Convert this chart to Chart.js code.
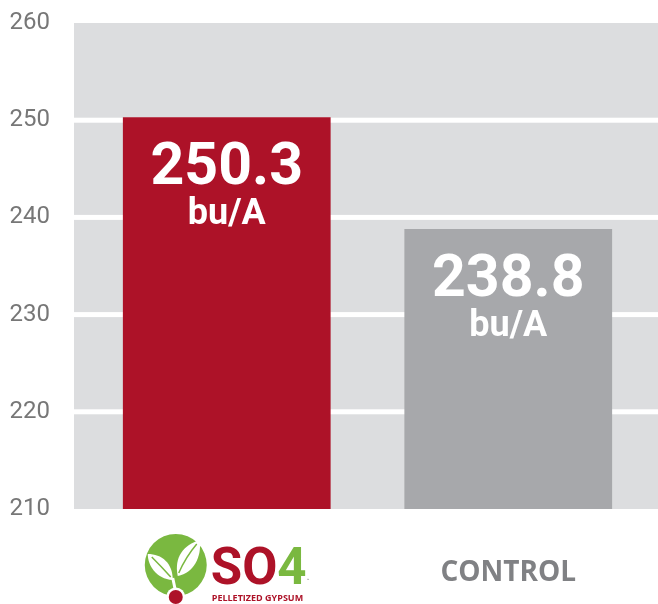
<!DOCTYPE html>
<html>
<head>
<meta charset="utf-8">
<script src="https://cdn.jsdelivr.net/npm/chart.js@4"></script>
<style>
  body { margin: 0; background: #fff; }
  #chart { display: block; }
</style>
</head>
<body>
<canvas id="chart" width="658" height="604"></canvas>
<script>
const categories = ["SO4", "CONTROL"];
const yieldValues = [250.3, 238.8];
const valueLabels = ["250.3", "238.8"];
const unitLabel = "bu/A";
const yTicks = [210, 220, 230, 240, 250, 260];

const RED = "#ad1228";
const GREY_BAR = "#a7a8ab";
const PLOT_BG = "#dcdddf";
const GREEN = "#7ab840";

// grey panel + white gridlines, spanning to the right edge of the canvas
const panelPlugin = {
  id: "panel",
  beforeDatasetsDraw(chart) {
    const { ctx, chartArea, scales } = chart;
    const y = scales.y;
    const left = chartArea.left - 12;
    const right = chart.width;
    ctx.save();
    ctx.fillStyle = PLOT_BG;
    ctx.fillRect(left, chartArea.top, right - left, chartArea.bottom - chartArea.top);
    ctx.fillStyle = "#ffffff";
    yTicks.slice(1, -1).forEach((v) => {
      const py = y.getPixelForValue(v);
      ctx.fillRect(left, py - 2.5, right - left, 5);
    });
    ctx.restore();
  },
};

// value text inside the bars + SO4 logo under the first bar
const labelPlugin = {
  id: "barLabels",
  afterDatasetsDraw(chart) {
    const { ctx } = chart;
    const bars = chart.getDatasetMeta(0).data;
    ctx.save();
    ctx.fillStyle = "#ffffff";
    ctx.textAlign = "center";
    ctx.textBaseline = "alphabetic";
    bars.forEach((bar, i) => {
      ctx.font = "bold 59px Roboto";
      ctx.fillText(valueLabels[i], bar.x, bar.y + 67);
      ctx.font = "bold 36px Roboto";
      ctx.fillText(unitLabel, bar.x, bar.y + 107);
    });
    ctx.restore();

    drawLogo(ctx, chart.scales.x.getPixelForValue(0));
  },
};

function drawLogo(ctx, cx) {
  const ox = cx - 51; // circle centre
  const oy = 565;
  ctx.save();
  // green disc
  ctx.fillStyle = GREEN;
  ctx.beginPath();
  ctx.arc(ox, oy, 31, 0, Math.PI * 2);
  ctx.fill();

  // left leaf
  ctx.fillStyle = "#ffffff";
  ctx.beginPath();
  ctx.moveTo(ox - 3, oy + 15);
  ctx.bezierCurveTo(ox - 20, oy + 14, ox - 28, oy, ox - 28, oy - 11);
  ctx.bezierCurveTo(ox - 14, oy - 11, ox - 3, oy - 2, ox - 3, oy + 15);
  ctx.fill();
  // right leaf
  ctx.beginPath();
  ctx.moveTo(ox + 2, oy + 11);
  ctx.bezierCurveTo(ox - 2, oy - 8, ox + 8, oy - 20, ox + 24, oy - 25);
  ctx.bezierCurveTo(ox + 26, oy - 8, ox + 18, oy + 8, ox + 2, oy + 11);
  ctx.fill();
  // veins
  ctx.strokeStyle = GREEN;
  ctx.lineWidth = 1.5;
  ctx.beginPath();
  ctx.moveTo(ox - 5, oy + 12);
  ctx.quadraticCurveTo(ox - 14, oy + 2, ox - 24, oy - 8);
  ctx.moveTo(ox + 3, oy + 8);
  ctx.quadraticCurveTo(ox + 10, oy - 8, ox + 21, oy - 21);
  ctx.stroke();
  // stem
  ctx.strokeStyle = "#ffffff";
  ctx.lineWidth = 3;
  ctx.beginPath();
  ctx.moveTo(ox - 3, oy + 13);
  ctx.quadraticCurveTo(ox - 1, oy + 22, ox, oy + 28);
  ctx.stroke();
  // red seed dot
  ctx.fillStyle = "#ffffff";
  ctx.beginPath();
  ctx.arc(ox, oy + 32, 9.5, 0, Math.PI * 2);
  ctx.fill();
  ctx.fillStyle = RED;
  ctx.beginPath();
  ctx.arc(ox, oy + 32, 7, 0, Math.PI * 2);
  ctx.fill();

  // wordmark
  ctx.textBaseline = "alphabetic";
  ctx.textAlign = "left";
  ctx.font = "bold 51px Roboto";
  const tx = ox + 35;
  ctx.fillStyle = RED;
  ctx.fillText("SO", tx, 584);
  const w = ctx.measureText("SO").width;
  ctx.fillStyle = GREEN;
  ctx.fillText("4", tx + w, 584);
  const w4 = ctx.measureText("4").width;
  ctx.font = "5px Roboto";
  ctx.fillStyle = "#888";
  ctx.fillText("™", tx + w + w4, 582);
  ctx.font = "bold 9px 'Open Sans'";
  ctx.fillStyle = RED;
  ctx.fillText("PELLETIZED GYPSUM", tx + 1, 601);
  ctx.restore();
}

new Chart(document.getElementById("chart"), {
  type: "bar",
  data: {
    labels: categories,
    datasets: [
      {
        data: yieldValues,
        backgroundColor: [RED, GREY_BAR],
        borderWidth: 0,
        barPercentage: 1,
        categoryPercentage: 0.738,
      },
    ],
  },
  options: {
    responsive: false,
    animation: false,
    layout: { padding: { top: 23, right: 9, left: 0, bottom: 0 } },
    plugins: { legend: { display: false }, tooltip: { enabled: false } },
    scales: {
      y: {
        min: 210,
        max: 260,
        afterBuildTicks: (s) => { s.ticks = yTicks.map((v) => ({ value: v })); },
        afterFit: (s) => {
          s.width = 86;
          s.paddingTop = 0;
          s.paddingBottom = 0;
        },
        grid: { display: false },
        border: { display: false },
        ticks: {
          padding: 28,
          color: "#777777",
          font: { family: "Roboto", size: 24 },
        },
      },
      x: {
        afterFit: (s) => { s.height = 95; },
        grid: { display: false, drawTicks: false },
        border: { display: false },
        ticks: {
          padding: 47,
          color: "#808184",
          font: { family: "'Open Sans'", size: 28, weight: "bold" },
          callback: (v, i) => (i === 0 ? "" : categories[i]),
        },
      },
    },
  },
  plugins: [panelPlugin, labelPlugin],
});
</script>
</body>
</html>
